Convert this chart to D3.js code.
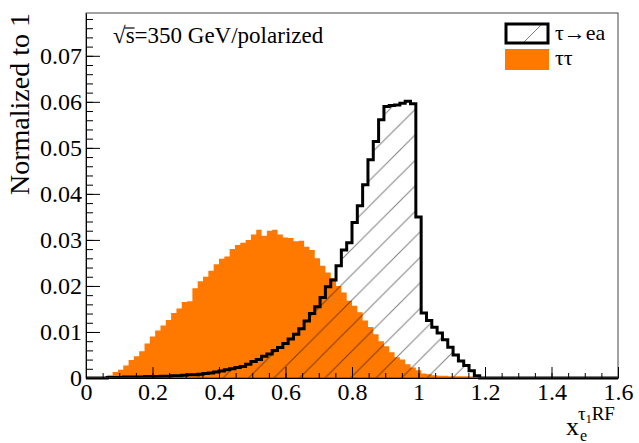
<!DOCTYPE html>
<html><head><meta charset="utf-8">
<script src="https://cdn.jsdelivr.net/npm/d3@7"></script>
<style>body{margin:0;background:#fff} svg{display:block} text{font-family:"Liberation Serif","Nimbus Roman","DejaVu Serif",serif;}</style>
</head><body>
<svg id="c" width="639" height="443"></svg>
<script>
// ---- data ----
const xMin = 0, xMax = 1.6, nBins = 100;
const tauToEa = [
 0,0,0,0,0.0001,0.0001,0.0001,0.0002,0.0002,0.0002,
 0.0002,0.0003,0.0003,0.0003,0.0004,0.0004,0.0005,0.0005,0.0006,0.0007,
 0.0007,0.0008,0.0010,0.0011,0.0013,0.0015,0.0018,0.0020,0.0023,0.0025,
 0.0030,0.0036,0.0040,0.0047,0.0052,0.0060,0.0066,0.0075,0.0085,0.0095,
 0.0107,0.0124,0.0140,0.0155,0.0175,0.0198,0.0213,0.0244,0.0278,0.0294,
 0.0338,0.0374,0.0420,0.0474,0.0514,0.0561,0.0590,0.0592,0.0593,0.0597,
 0.0601,0.0596,0.0350,0.0141,0.0125,0.0110,0.0098,0.0083,0.0067,0.0050,
 0.0037,0.0027,0.0016,0.0005,0,0,0,0,0,0,
 0,0,0,0,0,0,0,0,0,0,
 0,0,0,0,0,0,0,0,0,0];
const tauTau = [
 0,0,0,0.0001,0.0006,0.0013,0.0018,0.0027,0.0039,0.0047,
 0.0058,0.0075,0.0090,0.0103,0.0114,0.0126,0.0141,0.0151,0.0165,0.0167,
 0.0195,0.0210,0.0220,0.0233,0.0247,0.0259,0.0264,0.0280,0.0289,0.0294,
 0.0300,0.0312,0.0322,0.0309,0.0320,0.0322,0.0312,0.0305,0.0304,0.0297,
 0.0298,0.0285,0.0278,0.0260,0.0244,0.0229,0.0217,0.0200,0.0186,0.0168,
 0.0157,0.0143,0.0125,0.0111,0.0095,0.0080,0.0069,0.0056,0.0045,0.0040,
 0.0030,0.0023,0.0017,0.0010,0.0008,0.0006,0.0005,0.0005,0.0004,0.0004,
 0.0004,0.0004,0.0003,0.0003,0,0,0,0,0,0,
 0,0,0,0,0,0,0,0,0,0,
 0,0,0,0,0,0,0,0,0,0];
const xTickValues = [0,0.2,0.4,0.6,0.8,1.0,1.2,1.4,1.6];
const xTickLabels = ["0","0.2","0.4","0.6","0.8","1","1.2","1.4","1.6"];
const yTickValues = [0,0.01,0.02,0.03,0.04,0.05,0.06,0.07];
const yTickLabels = ["0","0.01","0.02","0.03","0.04","0.05","0.06","0.07"];
const yMax = 0.0793;
const legendLabels = ["τ→ea","ττ"];
const yTitle = "Normalized to 1";
const energyLabel = "=350 GeV/polarized";

// ---- layout ----
const svg = d3.select("#c");
const L = 86, R = 618, T = 13, B = 378;
const FONT = '"Liberation Serif","Nimbus Roman","DejaVu Serif",serif';
const ORANGE = "#ff7800";
const x = d3.scaleLinear().domain([xMin, xMax]).range([L, R]);
const y = d3.scaleLinear().domain([0, yMax]).range([B, T]);
const edges = d3.range(nBins + 1).map(i => xMin + i * (xMax - xMin) / nBins);

const defs = svg.append("defs");
function hatch(id, w, ox) {
  const p = defs.append("pattern").attr("id", id).attr("patternUnits", "userSpaceOnUse")
    .attr("x", ox).attr("y", 0).attr("width", w).attr("height", w);
  p.append("path").attr("d", `M0,${w} L${w},0 M-2,2 L2,-2 M${w-2},${w+2} L${w+2},${w-2}`)
    .attr("stroke", "#000").attr("stroke-opacity", 0.5).attr("stroke-width", 1);
}
hatch("hatchMain", 25.5, 14.5);
hatch("hatchLeg", 40, 6);

svg.append("rect").attr("width", 639).attr("height", 443).attr("fill", "#fff");

function pts(vals) {
  const p = vals.map((v, i) => [edges[i], v]);
  p.push([edges[nBins], vals[nBins - 1]]);
  return p;
}
const area = d3.area().curve(d3.curveStepAfter).x(d => x(d[0])).y0(y(0)).y1(d => y(d[1]));
const line = d3.line().curve(d3.curveStepAfter).x(d => x(d[0])).y(d => y(d[1]));

svg.append("path").attr("d", area(pts(tauTau))).attr("fill", ORANGE);
svg.append("path").attr("d", area(pts(tauToEa))).attr("fill", "url(#hatchMain)");
svg.append("path").attr("d", line(pts(tauToEa))).attr("fill", "none")
  .attr("stroke", "#000").attr("stroke-width", 3).attr("stroke-linejoin", "miter");

svg.append("rect").attr("x", L).attr("y", T).attr("width", R - L).attr("height", B - T)
  .attr("fill", "none").attr("stroke", "#444").attr("stroke-width", 1);

// x axis
const xMinor = d3.range(0, 33).map(i => i * 0.05);
const gxm = svg.append("g").attr("transform", `translate(0,${B})`)
  .call(d3.axisBottom(x).tickValues(xMinor).tickSizeInner(-5).tickSizeOuter(0).tickFormat(""));
gxm.select(".domain").remove();
const gx = svg.append("g").attr("transform", `translate(0,${B})`)
  .call(d3.axisBottom(x).tickValues(xTickValues).tickSizeInner(-11).tickSizeOuter(0).tickPadding(5)
    .tickFormat((d, i) => xTickLabels[i]));
gx.attr("font-family", FONT);
gx.selectAll("text").style("font-family", FONT).attr("font-size", 24).attr("fill", "#000");
gx.select(".domain").attr("stroke", "#000");

// y axis
const yMinor = d3.range(0, 40).map(i => i * 0.002);
const gym = svg.append("g").attr("transform", `translate(${L},0)`)
  .call(d3.axisLeft(y).tickValues(yMinor).tickSizeInner(-7).tickSizeOuter(0).tickFormat(""));
gym.select(".domain").remove();
const gy = svg.append("g").attr("transform", `translate(${L},0)`)
  .call(d3.axisLeft(y).tickValues(yTickValues).tickSizeInner(-14).tickSizeOuter(0).tickPadding(4)
    .tickFormat((d, i) => yTickLabels[i]));
gy.attr("font-family", FONT);
gy.selectAll("text").style("font-family", FONT).attr("font-size", 24).attr("fill", "#000");
gy.select(".domain").attr("stroke", "#000");
svg.selectAll(".tick line").attr("stroke", "#000");

// y title
svg.append("text").attr("transform", `translate(29,${T}) rotate(-90)`)
  .attr("text-anchor", "end").style("font-family", FONT).attr("font-size", 28).text(yTitle);

// x title  x_e^{tau_1 RF}
const xt = svg.append("text").style("font-family", FONT).attr("fill", "#000");
xt.append("tspan").attr("x", 566).attr("y", 435).attr("font-size", 26).text("x");
xt.append("tspan").attr("x", 580).attr("y", 441).attr("font-size", 16).text("e");
const sup = svg.append("text").style("font-family", FONT).attr("fill", "#000");
sup.append("tspan").attr("x", 578).attr("y", 420).attr("font-size", 19).text("τ");
sup.append("tspan").attr("dy", 3).attr("font-size", 12).text("1");
sup.append("tspan").attr("dy", -3).attr("font-size", 19).text("RF");

// energy label
const el = svg.append("text").attr("x", 113).attr("y", 43).style("font-family", FONT).attr("font-size", 23);
el.append("tspan").text("√");
el.append("tspan").text("s");
el.append("tspan").text(energyLabel);
try {
  const ext = el.node().getExtentOfChar(1);
  svg.append("line").attr("x1", ext.x - 1).attr("x2", ext.x + ext.width)
    .attr("y1", 28).attr("y2", 28).attr("stroke", "#000").attr("stroke-width", 1.2);
} catch (e) {}

// legend
svg.append("rect").attr("x", 506).attr("y", 24).attr("width", 42).attr("height", 19)
  .attr("fill", "url(#hatchLeg)").attr("stroke", "#000").attr("stroke-width", 3);
svg.append("rect").attr("x", 505).attr("y", 49).attr("width", 44).attr("height", 21)
  .attr("fill", ORANGE);
svg.append("text").attr("x", 555).attr("y", 40).style("font-family", FONT).attr("font-size", 22).text(legendLabels[0]);
svg.append("text").attr("x", 555).attr("y", 65).style("font-family", FONT).attr("font-size", 22).text(legendLabels[1]);
</script>
</body></html>
